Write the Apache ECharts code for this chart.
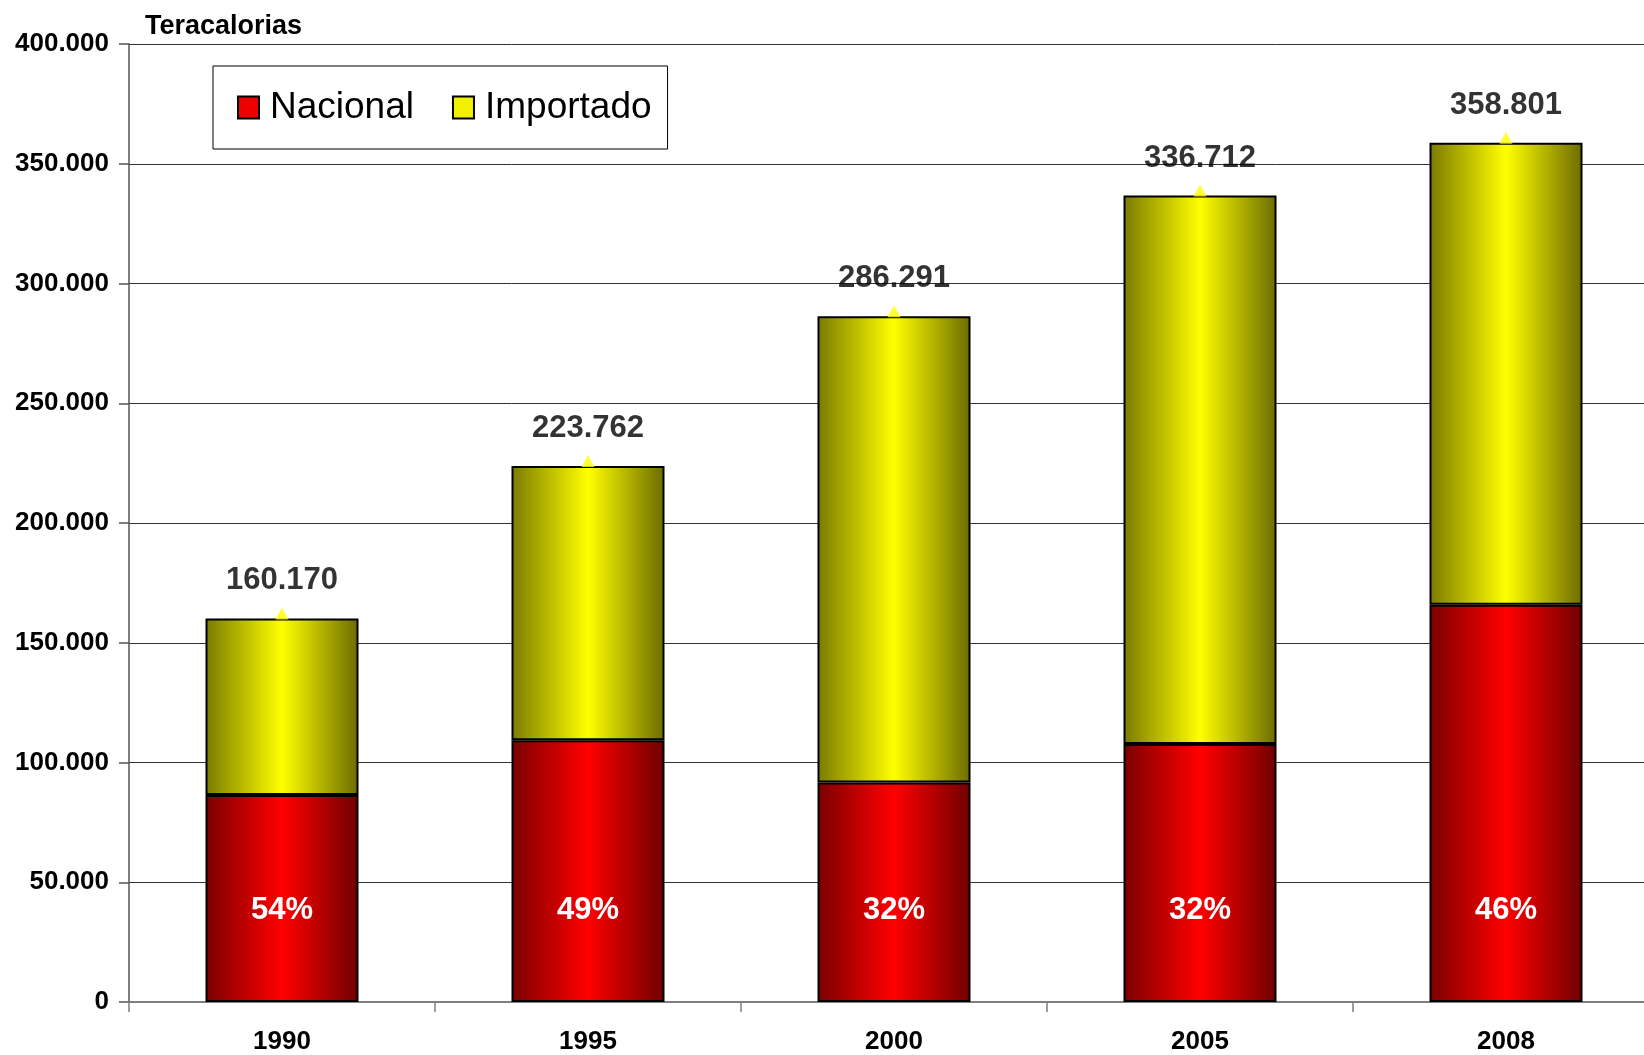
<!DOCTYPE html>
<html>
<head>
<meta charset="utf-8">
<script src="https://cdn.jsdelivr.net/npm/echarts@6/dist/echarts.min.js"></script>
<style>
html, body { margin: 0; padding: 0; background: #fff; overflow: hidden; }
/* the last category runs past the right edge, as in the original */
#main { width: 1659px; height: 1055px; }
</style>
</head>
<body>
<div id="main"></div>
<script>
var anos = ['1990', '1995', '2000', '2005', '2008'];
var nacional = [86400, 109300, 91600, 107700, 165900];
var importado = [73770, 114462, 194691, 229012, 192901];
var totales = [160170, 223762, 286291, 336712, 358801];
var porcentaje = ['54%', '49%', '32%', '32%', '46%'];

var fuente = '"Liberation Sans", Arial, sans-serif';

function miles(v) {
	return String(v).replace(/\B(?=(\d{3})+(?!\d))/g, '.');
}

function degradado(borde, centro, borde2) {
	return new echarts.graphic.LinearGradient(0, 0, 1, 0, [
		{ offset: 0, color: borde },
		{ offset: 0.5, color: centro },
		{ offset: 1, color: borde2 }
	]);
}

var dom = document.getElementById('main');
var myChart = echarts.init(dom);

var option = {
	backgroundColor: '#fff',
	animation: false,
	title: {
		text: 'Teracalorias',
		left: 140,
		top: 8,
		textStyle: { fontFamily: fuente, fontSize: 27, fontWeight: 'bold', color: '#000' }
	},
	legend: {
		left: 213,
		top: 66,
		orient: 'horizontal',
		padding: [23, 16, 23, 24],
		borderColor: '#000',
		borderWidth: 1,
		itemWidth: 21,
		itemHeight: 22,
		itemGap: 38,
		icon: 'rect',
		textStyle: { fontFamily: fuente, fontSize: 37, color: '#000', padding: [0, 0, 0, 6] },
		data: [
			{ name: 'Nacional', itemStyle: { color: '#ee0000', borderColor: '#000', borderWidth: 2 } },
			{ name: 'Importado', itemStyle: { color: '#f0f000', borderColor: '#000', borderWidth: 2 } }
		]
	},
	grid: {
		left: 129,
		right: 0,
		top: 44,
		bottom: 50,
		containLabel: false
	},
	xAxis: {
		type: 'category',
		data: anos,
		axisLine: { lineStyle: { color: '#7f7f7f', width: 2 } },
		axisTick: { show: true, length: 10, lineStyle: { color: '#7f7f7f', width: 1.5 } },
		axisLabel: {
			fontFamily: fuente, fontSize: 26, fontWeight: 'bold', color: '#000', margin: 27
		}
	},
	yAxis: {
		type: 'value',
		min: 0,
		max: 400000,
		interval: 50000,
		axisLine: { show: true, lineStyle: { color: '#555', width: 1.5 } },
		axisTick: { show: true, length: 10, lineStyle: { color: '#555', width: 1.5 } },
		splitLine: { lineStyle: { color: '#333', width: 1 } },
		axisLabel: {
			fontFamily: fuente, fontSize: 26, fontWeight: 'bold', color: '#000', margin: 20,
			formatter: function (v) { return miles(v); }
		}
	},
	series: [
		{
			name: 'Nacional',
			type: 'bar',
			stack: 'total',
			barWidth: '50%',
			data: nacional,
			itemStyle: {
				color: degradado('#7a0000', '#ff0000', '#6e0000'),
				borderColor: '#000',
				borderWidth: 2
			},
			label: {
				show: true,
				position: 'insideBottom',
				distance: 76,
				fontFamily: fuente,
				fontSize: 31,
				fontWeight: 'bold',
				color: '#fff',
				formatter: function (p) { return porcentaje[p.dataIndex]; }
			}
		},
		{
			name: 'Importado',
			type: 'bar',
			stack: 'total',
			barWidth: '50%',
			data: importado,
			itemStyle: {
				color: degradado('#7a7a00', '#ffff00', '#6b6b00'),
				borderColor: '#000',
				borderWidth: 2
			}
		},
		{
			name: 'Total',
			type: 'scatter',
			data: totales,
			symbol: 'triangle',
			symbolSize: [13, 12],
			symbolOffset: [0, -5],
			itemStyle: { color: '#ffff00' },
			z: 5,
			label: {
				show: true,
				position: 'top',
				distance: 11,
				fontFamily: fuente,
				fontSize: 31,
				fontWeight: 'bold',
				color: '#000',
				formatter: function (p) { return miles(p.value); }
			}
		}
	]
};

if (option && typeof option === 'object') {
	myChart.setOption(option, true);
}
</script>
</body>
</html>
